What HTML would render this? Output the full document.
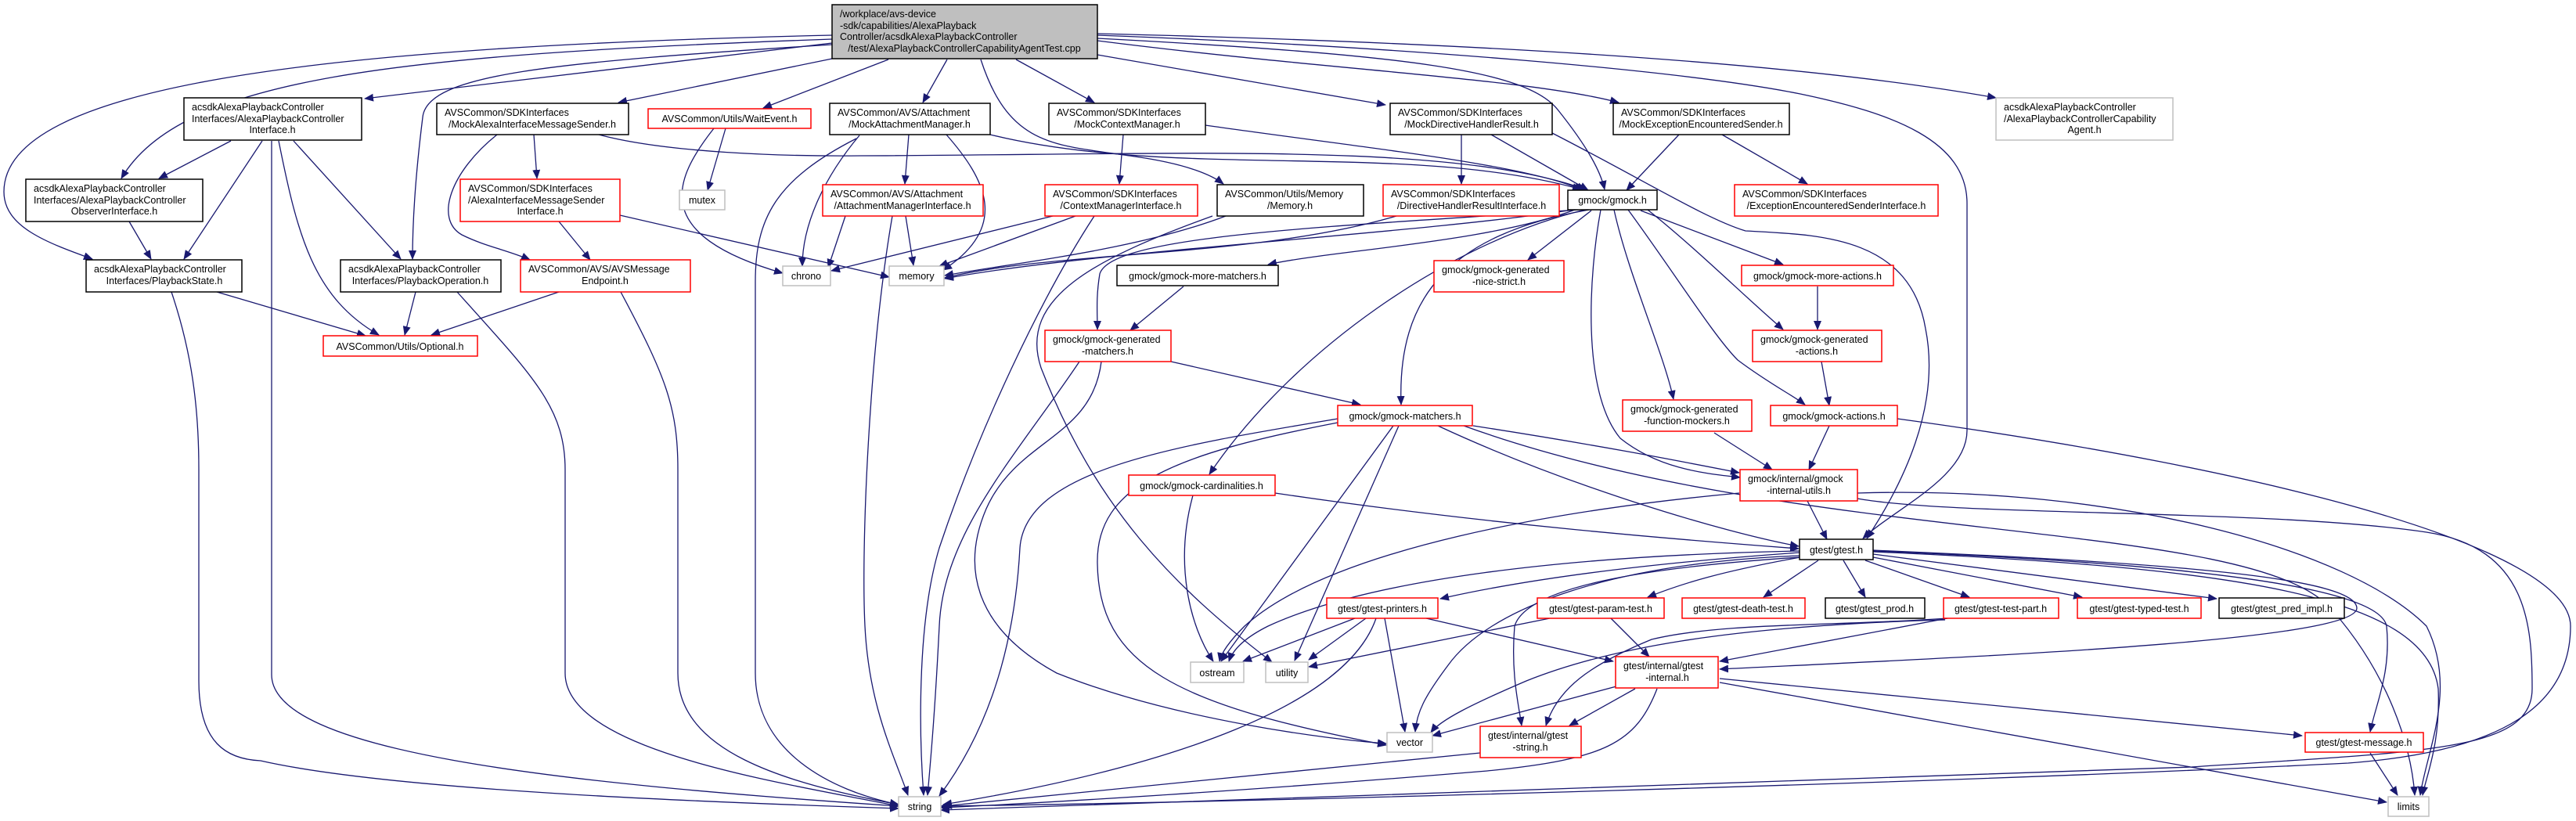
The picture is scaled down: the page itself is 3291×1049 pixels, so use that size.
<!DOCTYPE html>
<html><head><meta charset="utf-8"><style>
html,body{margin:0;padding:0;background:#fff}
svg{display:block}
text{font-family:"Liberation Sans",Arial,sans-serif;font-size:12.5px;fill:#000}
.e{fill:none;stroke:#191970;stroke-width:1.3}
.b{fill:#fff;stroke:#000;stroke-width:1.5}
.r{fill:#fff;stroke:#ff0000;stroke-width:1.5}
.g{fill:#fff;stroke:#bfbfbf;stroke-width:1.5}
.m{text-anchor:middle}
</style></head><body>
<svg width="3291" height="1049" viewBox="0 0 3291 1049" xmlns="http://www.w3.org/2000/svg">
<defs><marker id="a" markerWidth="12" markerHeight="10" refX="11" refY="5" orient="auto" markerUnits="userSpaceOnUse"><path d="M0,0 L12,5 L0,10 z" fill="#191970"/></marker></defs>
<g class="e" marker-end="url(#a)">
<!-- root -->
<path d="M1063,55 L466,126"/>
<path d="M1063,50 C500,70 230,100 155,228"/>
<path d="M1063,45 C400,60 5,110 5,245 C5,290 60,310 118,331"/>
<path d="M1063,57 C700,80 545,95 540,150 C530,230 527,290 527,331"/>
<path d="M1063,75 L790,131"/>
<path d="M1135,76 L975,138"/>
<path d="M1210,76 L1179,131"/>
<path d="M1253,76 C1290,190 1350,185 1450,200 C1520,210 1550,225 1563,235"/>
<path d="M1298,76 L1398,131"/>
<path d="M1402,70 L1770,134"/>
<path d="M1402,52 C1700,90 1950,100 2068,131"/>
<path d="M1402,49 C1800,70 1950,90 1990,140 C2030,190 2045,220 2050,242"/>
<path d="M1402,45 C1800,60 2150,90 2300,120 C2420,145 2513,180 2513,260 L2513,550 C2513,610 2420,650 2380,688"/>
<path d="M1402,43 C1900,55 2300,80 2550,125"/>
<!-- APCI -->
<path d="M295,180 L203,228"/>
<path d="M335,180 L235,331"/>
<path d="M375,180 L512,331"/>
<path d="M356,180 C380,300 400,380 484,428"/>
<path d="M347,180 L347,862 C347,960 700,1000 1148,1030"/>
<path d="M165,283 L193,331"/>
<path d="M277,373 L467,429"/>
<path d="M219,373 C245,450 254,520 254,600 L254,870 C254,950 290,970 333,972 C500,1010 900,1025 1148,1033"/>
<path d="M531,373 L517,428"/>
<path d="M584,373 C680,480 722,520 722,600 L722,860 C722,960 1000,1000 1148,1030"/>
<path d="M714,373 L551,428"/>
<path d="M793,373 C850,480 866,520 866,600 L866,860 C866,960 1000,1000 1148,1028"/>
<!-- MAIMS -->
<path d="M682,172 L686,228"/>
<path d="M635,172 C575,220 555,280 590,300 C620,315 650,320 677,332"/>
<path d="M765,172 C850,195 1000,200 1100,199 C1500,198 1850,180 2026,242"/>
<path d="M714,283 L754,332"/>
<path d="M792,275 L1136,354"/>
<!-- WaitEvent -->
<path d="M927,164 L904,243"/>
<path d="M912,164 C860,230 830,300 1000,349"/>
<!-- MAM -->
<path d="M1161,172 L1156,235"/>
<path d="M1098,173 C1050,230 1025,290 1025,340"/>
<path d="M1209,172 C1260,230 1290,290 1205,345"/>
<path d="M1094,177 C990,230 965,280 965,360 L965,860 C965,960 1060,1010 1148,1028"/>
<path d="M1265,172 C1500,230 1800,180 2020,242"/>
<path d="M1080,276 L1058,342"/>
<path d="M1157,276 L1167,339"/>
<path d="M1140,276 C1110,450 1100,700 1105,800 C1110,900 1140,960 1160,1016"/>
<!-- MCM / CMI -->
<path d="M1435,172 L1430,235"/>
<path d="M1540,160 C1750,190 1950,210 2022,243"/>
<path d="M1345,276 L1062,346"/>
<path d="M1374,276 L1200,340"/>
<path d="M1398,276 C1330,380 1250,550 1200,700 C1170,800 1175,950 1180,1016"/>
<!-- Memory.h -->
<path d="M1566,276 C1450,320 1300,335 1207,352"/>
<path d="M1549,276 C1400,330 1300,380 1330,470 C1400,650 1500,750 1625,846"/>
<!-- MDHR / DHRI -->
<path d="M1867,172 L1867,235"/>
<path d="M1905,172 L2029,243"/>
<path d="M1983,170 C2100,230 2180,280 2230,295 C2320,300 2440,300 2460,420 C2480,520 2430,620 2385,688"/>
<path d="M1784,276 C1600,330 1350,320 1207,355"/>
<!-- MEES -->
<path d="M2200,172 L2309,235"/>
<path d="M2145,172 L2078,243"/>
<!-- gmock.h -->
<path d="M2012,268 C1900,310 1700,320 1620,338"/>
<path d="M2033,269 L1952,332"/>
<path d="M2010,268 C1800,300 1400,320 1207,356"/>
<path d="M2016,268 C1700,290 1420,300 1405,350 C1400,380 1402,400 1402,421"/>
<path d="M2030,268 C1850,300 1785,380 1790,517"/>
<path d="M2025,268 C1850,310 1650,450 1545,606"/>
<path d="M2062,268 C2080,350 2125,450 2138,510"/>
<path d="M2045,268 C2030,350 2020,500 2070,560 C2120,600 2180,605 2223,610"/>
<path d="M2096,269 L2278,338"/>
<path d="M2105,268 C2170,320 2230,380 2278,421"/>
<path d="M2080,268 C2140,350 2190,430 2220,460 C2260,490 2290,505 2306,517"/>
<!-- matchers -->
<path d="M1512,366 L1444,422"/>
<path d="M1496,462 L1738,517"/>
<path d="M1379,462 C1300,580 1205,680 1200,800 C1195,900 1190,960 1185,1016"/>
<path d="M1407,462 C1395,560 1300,560 1260,650 C1230,720 1240,800 1350,860 C1500,920 1700,945 1771,950"/>
<path d="M1837,544 C2000,620 2200,680 2298,698"/>
<path d="M1882,544 C2050,570 2150,590 2222,604"/>
<path d="M1870,544 C2300,700 2880,660 2980,780 C3050,860 3080,950 3085,1016"/>
<path d="M1780,544 L1560,845"/>
<path d="M1787,544 L1654,844"/>
<path d="M1709,535 C1500,570 1310,600 1303,700 C1295,850 1250,950 1200,1017"/>
<path d="M1709,540 C1500,580 1400,620 1402,720 C1404,850 1500,900 1771,952"/>
<path d="M1629,630 C1900,670 2150,690 2298,701"/>
<path d="M1524,633 C1500,720 1520,800 1550,845"/>
<!-- actions -->
<path d="M2190,553 L2264,600"/>
<path d="M2322,366 L2322,421"/>
<path d="M2327,462 L2337,518"/>
<path d="M2337,544 L2311,600"/>
<path d="M2424,535 C2900,600 3284,700 3284,800 C3284,900 3200,960 3000,975 C2500,1000 1600,1025 1202,1030"/>
<path d="M2309,640 L2334,689"/>
<path d="M2373,637 C2500,660 2900,650 3100,680 C3230,700 3235,800 3235,880 C3235,960 3100,960 2800,980 C2000,1010 1500,1025 1202,1035"/>
<path d="M2222,630 C2000,650 1700,700 1590,800 C1570,820 1560,835 1558,845"/>
<path d="M2373,630 C2700,620 3000,700 3100,800 C3140,880 3100,960 3092,1016"/>
<!-- gtest.h -->
<path d="M2299,706 C2100,720 1950,740 1840,765"/>
<path d="M2300,712 C2200,730 2150,745 2105,763"/>
<path d="M2323,716 L2253,763"/>
<path d="M2355,716 L2383,763"/>
<path d="M2383,716 L2516,763"/>
<path d="M2393,712 L2660,763"/>
<path d="M2393,708 L2832,765"/>
<path d="M2299,704 C2000,710 1750,740 1620,800 C1590,815 1575,830 1570,845"/>
<path d="M2299,710 C2050,720 1900,780 1850,850 C1820,890 1810,910 1808,935"/>
<path d="M2299,712 C2100,725 1950,750 1935,800 C1930,860 1940,900 1944,927"/>
<path d="M2393,703 C2800,720 3010,740 3011,777 C3011,820 2500,840 2197,855"/>
<path d="M2393,704 C2800,720 3040,750 3049,800 C3055,860 3035,900 3028,935"/>
<path d="M2393,705 C2850,725 3100,760 3115,880 C3118,950 3100,990 3095,1016"/>
<!-- test-part -->
<path d="M2488,790 L2197,845"/>
<path d="M2488,790 C2350,800 2200,795 2110,817 C2030,850 1990,880 1975,927"/>
<path d="M2485,792 C2200,800 2050,830 1950,870 C1880,900 1840,920 1828,936"/>
<!-- printers / param -->
<path d="M1731,790 L1588,845"/>
<path d="M1745,790 L1672,843"/>
<path d="M1758,790 C1720,900 1500,980 1205,1028"/>
<path d="M1769,790 L1795,935"/>
<path d="M1822,790 L2061,845"/>
<path d="M1980,790 L1672,852"/>
<path d="M2058,790 L2107,839"/>
<!-- gtest-internal -->
<path d="M2065,877 L1830,940"/>
<path d="M2089,880 L2005,927"/>
<path d="M2117,880 C2090,950 2050,970 1900,985 C1600,1010 1350,1025 1202,1032"/>
<path d="M2197,872 L3049,1025"/>
<path d="M2197,867 L2941,940"/>
<path d="M1891,962 L1205,1030"/>
<path d="M3028,962 L3063,1016"/>
</g>
<!-- nodes -->
<rect x="1063" y="6" width="339" height="69" fill="#bfbfbf" stroke="#000" stroke-width="1.5"/>
<text x="1073" y="22">/workplace/avs-device</text>
<text x="1073" y="37">-sdk/capabilities/AlexaPlayback</text>
<text x="1073" y="51">Controller/acsdkAlexaPlaybackController</text>
<text x="1232" y="66" class="m">/test/AlexaPlaybackControllerCapabilityAgentTest.cpp</text>

<rect class="b" x="235" y="125" width="227" height="54"/>
<text x="245" y="141">acsdkAlexaPlaybackController</text><text x="245" y="156">Interfaces/AlexaPlaybackController</text><text x="348" y="170" class="m">Interface.h</text>

<rect class="b" x="558" y="132" width="245" height="40"/>
<text x="568" y="148">AVSCommon/SDKInterfaces</text><text x="680" y="163" class="m">/MockAlexaInterfaceMessageSender.h</text>

<rect class="r" x="828" y="139" width="208" height="25"/>
<text x="932" y="156" class="m">AVSCommon/Utils/WaitEvent.h</text>

<rect class="b" x="1060" y="132" width="205" height="40"/>
<text x="1070" y="148">AVSCommon/AVS/Attachment</text><text x="1162" y="163" class="m">/MockAttachmentManager.h</text>

<rect class="b" x="1340" y="132" width="200" height="40"/>
<text x="1350" y="148">AVSCommon/SDKInterfaces</text><text x="1440" y="163" class="m">/MockContextManager.h</text>

<rect class="b" x="1776" y="132" width="207" height="40"/>
<text x="1786" y="148">AVSCommon/SDKInterfaces</text><text x="1880" y="163" class="m">/MockDirectiveHandlerResult.h</text>

<rect class="b" x="2061" y="132" width="225" height="40"/>
<text x="2071" y="148">AVSCommon/SDKInterfaces</text><text x="2173" y="163" class="m">/MockExceptionEncounteredSender.h</text>

<rect class="g" x="2550" y="125" width="226" height="54"/>
<text x="2560" y="141">acsdkAlexaPlaybackController</text><text x="2560" y="156">/AlexaPlaybackControllerCapability</text><text x="2663" y="170" class="m">Agent.h</text>

<rect class="b" x="33" y="229" width="226" height="54"/>
<text x="43" y="245">acsdkAlexaPlaybackController</text><text x="43" y="260">Interfaces/AlexaPlaybackController</text><text x="146" y="274" class="m">ObserverInterface.h</text>

<rect class="r" x="588" y="229" width="204" height="54"/>
<text x="598" y="245">AVSCommon/SDKInterfaces</text><text x="598" y="260">/AlexaInterfaceMessageSender</text><text x="690" y="274" class="m">Interface.h</text>

<rect class="g" x="868" y="243" width="58" height="25"/>
<text x="897" y="260" class="m">mutex</text>

<rect class="r" x="1051" y="236" width="205" height="40"/>
<text x="1061" y="252">AVSCommon/AVS/Attachment</text><text x="1153" y="267" class="m">/AttachmentManagerInterface.h</text>

<rect class="r" x="1335" y="236" width="195" height="40"/>
<text x="1345" y="252">AVSCommon/SDKInterfaces</text><text x="1432" y="267" class="m">/ContextManagerInterface.h</text>

<rect class="b" x="1555" y="236" width="187" height="40"/>
<text x="1565" y="252">AVSCommon/Utils/Memory</text><text x="1648" y="267" class="m">/Memory.h</text>

<rect class="r" x="1767" y="236" width="225" height="40"/>
<text x="1777" y="252">AVSCommon/SDKInterfaces</text><text x="1880" y="267" class="m">/DirectiveHandlerResultInterface.h</text>

<rect class="b" x="2003" y="243" width="114" height="25"/>
<text x="2060" y="260" class="m">gmock/gmock.h</text>

<rect class="r" x="2216" y="236" width="260" height="40"/>
<text x="2226" y="252">AVSCommon/SDKInterfaces</text><text x="2346" y="267" class="m">/ExceptionEncounteredSenderInterface.h</text>

<rect class="b" x="110" y="332" width="199" height="41"/>
<text x="120" y="348">acsdkAlexaPlaybackController</text><text x="210" y="363" class="m">Interfaces/PlaybackState.h</text>

<rect class="b" x="435" y="332" width="205" height="41"/>
<text x="445" y="348">acsdkAlexaPlaybackController</text><text x="537" y="363" class="m">Interfaces/PlaybackOperation.h</text>

<rect class="r" x="665" y="332" width="217" height="41"/>
<text x="675" y="348">AVSCommon/AVS/AVSMessage</text><text x="773" y="363" class="m">Endpoint.h</text>

<rect class="g" x="1000" y="340" width="61" height="25"/>
<text x="1030" y="357" class="m">chrono</text>

<rect class="g" x="1136" y="340" width="70" height="25"/>
<text x="1171" y="357" class="m">memory</text>

<rect class="b" x="1427" y="339" width="206" height="26"/>
<text x="1530" y="357" class="m">gmock/gmock-more-matchers.h</text>

<rect class="r" x="1832" y="333" width="166" height="40"/>
<text x="1842" y="349">gmock/gmock-generated</text><text x="1915" y="364" class="m">-nice-strict.h</text>

<rect class="r" x="2225" y="339" width="194" height="26"/>
<text x="2322" y="357" class="m">gmock/gmock-more-actions.h</text>

<rect class="r" x="413" y="429" width="197" height="26"/>
<text x="511" y="447" class="m">AVSCommon/Utils/Optional.h</text>

<rect class="r" x="1335" y="422" width="161" height="40"/>
<text x="1345" y="438">gmock/gmock-generated</text><text x="1415" y="453" class="m">-matchers.h</text>

<rect class="r" x="2239" y="422" width="165" height="40"/>
<text x="2249" y="438">gmock/gmock-generated</text><text x="2321" y="453" class="m">-actions.h</text>

<rect class="r" x="1709" y="518" width="172" height="26"/>
<text x="1795" y="536" class="m">gmock/gmock-matchers.h</text>

<rect class="r" x="2073" y="511" width="165" height="40"/>
<text x="2083" y="527">gmock/gmock-generated</text><text x="2155" y="542" class="m">-function-mockers.h</text>

<rect class="r" x="2262" y="518" width="162" height="26"/>
<text x="2343" y="536" class="m">gmock/gmock-actions.h</text>

<rect class="r" x="1442" y="607" width="187" height="26"/>
<text x="1535" y="625" class="m">gmock/gmock-cardinalities.h</text>

<rect class="r" x="2223" y="600" width="150" height="40"/>
<text x="2233" y="616">gmock/internal/gmock</text><text x="2298" y="631" class="m">-internal-utils.h</text>

<rect class="b" x="2299" y="689" width="94" height="26"/>
<text x="2346" y="707" class="m">gtest/gtest.h</text>

<rect class="r" x="1695" y="764" width="142" height="26"/>
<text x="1766" y="782" class="m">gtest/gtest-printers.h</text>
<rect class="r" x="1964" y="764" width="162" height="26"/>
<text x="2045" y="782" class="m">gtest/gtest-param-test.h</text>
<rect class="r" x="2149" y="764" width="157" height="26"/>
<text x="2227" y="782" class="m">gtest/gtest-death-test.h</text>
<rect class="b" x="2332" y="764" width="127" height="26"/>
<text x="2395" y="782" class="m">gtest/gtest_prod.h</text>
<rect class="r" x="2483" y="764" width="147" height="26"/>
<text x="2556" y="782" class="m">gtest/gtest-test-part.h</text>
<rect class="r" x="2654" y="764" width="158" height="26"/>
<text x="2733" y="782" class="m">gtest/gtest-typed-test.h</text>
<rect class="b" x="2835" y="764" width="160" height="26"/>
<text x="2915" y="782" class="m">gtest/gtest_pred_impl.h</text>

<rect class="g" x="1521" y="846" width="68" height="26"/>
<text x="1555" y="864" class="m">ostream</text>
<rect class="g" x="1617" y="846" width="54" height="26"/>
<text x="1644" y="864" class="m">utility</text>

<rect class="r" x="2064" y="839" width="131" height="40"/>
<text x="2074" y="855">gtest/internal/gtest</text><text x="2130" y="870" class="m">-internal.h</text>

<rect class="g" x="1772" y="936" width="58" height="25"/>
<text x="1801" y="953" class="m">vector</text>

<rect class="r" x="1891" y="928" width="129" height="40"/>
<text x="1901" y="944">gtest/internal/gtest</text><text x="1955" y="959" class="m">-string.h</text>

<rect class="r" x="2945" y="936" width="151" height="25"/>
<text x="3020" y="953" class="m">gtest/gtest-message.h</text>

<rect class="g" x="1148" y="1018" width="54" height="25"/>
<text x="1175" y="1035" class="m">string</text>
<rect class="g" x="3051" y="1018" width="52" height="25"/>
<text x="3077" y="1035" class="m">limits</text>
</svg>
</body></html>
